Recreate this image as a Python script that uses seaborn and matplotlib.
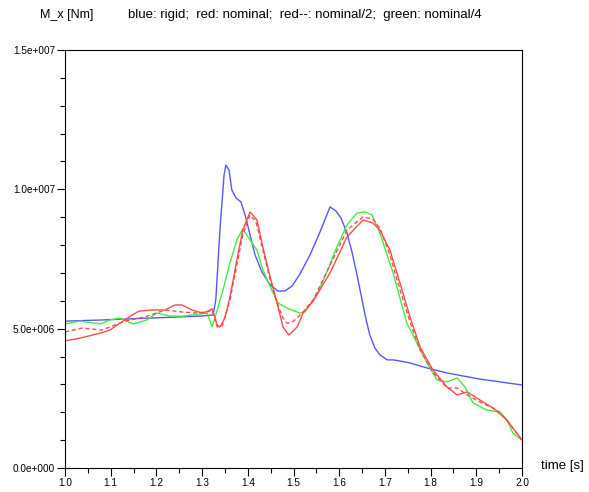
import numpy as np
import pandas as pd
import matplotlib
matplotlib.use("Agg")
import matplotlib.pyplot as plt
import seaborn as sns
from matplotlib.ticker import MultipleLocator, FuncFormatter

# ---- data (time in s, moment in 1e6 Nm) ----
t_rigid = [1.000, 1.077, 1.186, 1.295, 1.324, 1.330, 1.339, 1.348, 1.352, 1.359, 1.365, 1.374,
           1.385, 1.394, 1.405, 1.416, 1.431, 1.449, 1.466, 1.481, 1.497, 1.514, 1.536, 1.558,
           1.580, 1.593, 1.604, 1.617, 1.628, 1.639, 1.650, 1.659, 1.667, 1.678, 1.689, 1.705,
           1.718, 1.733, 1.755, 1.792, 1.836, 1.908, 2.000]
m_rigid = [5.27, 5.31, 5.38, 5.45, 5.49, 6.03, 8.54, 10.51, 10.87, 10.69, 9.98, 9.69,
           9.55, 9.08, 8.36, 7.64, 7.03, 6.57, 6.35, 6.35, 6.53, 6.96, 7.64, 8.47,
           9.37, 9.22, 8.97, 8.43, 7.75, 6.93, 6.03, 5.31, 4.77, 4.31, 4.06, 3.88,
           3.88, 3.84, 3.77, 3.59, 3.41, 3.19, 2.98]

t_nom = [1.000, 1.033, 1.077, 1.098, 1.124, 1.147, 1.162, 1.190, 1.219, 1.241, 1.256, 1.278,
         1.300, 1.313, 1.322, 1.333, 1.339, 1.350, 1.361, 1.376, 1.389, 1.405, 1.420, 1.433,
         1.449, 1.464, 1.477, 1.490, 1.508, 1.521, 1.543, 1.580, 1.617, 1.652, 1.674, 1.689,
         1.711, 1.733, 1.755, 1.777, 1.805, 1.836, 1.858, 1.880, 1.908, 1.937, 1.967, 2.000]
m_nom = [4.56, 4.66, 4.84, 4.95, 5.24, 5.49, 5.63, 5.67, 5.67, 5.85, 5.85, 5.67,
         5.56, 5.63, 5.71, 5.13, 5.06, 5.38, 6.14, 7.46, 8.54, 9.19, 8.90, 7.93,
         6.85, 5.92, 5.06, 4.77, 5.06, 5.56, 5.99, 7.00, 8.29, 8.90, 8.79, 8.54,
         7.82, 6.64, 5.42, 4.34, 3.52, 2.91, 2.62, 2.73, 2.44, 2.15, 1.72, 1.00]

t_half = [1.000, 1.037, 1.081, 1.131, 1.175, 1.219, 1.256, 1.284, 1.311, 1.322, 1.333, 1.344,
          1.361, 1.376, 1.389, 1.405, 1.418, 1.433, 1.449, 1.464, 1.477, 1.486, 1.497, 1.508,
          1.521, 1.543, 1.580, 1.617, 1.652, 1.674, 1.689, 1.711, 1.733, 1.755, 1.777, 1.805,
          1.836, 1.858, 1.880, 1.908, 1.945, 1.967, 2.000]
m_half = [4.88, 5.02, 4.95, 5.27, 5.42, 5.67, 5.60, 5.56, 5.60, 5.67, 5.06, 5.10,
          6.03, 7.28, 8.36, 9.08, 8.83, 7.82, 6.75, 5.92, 5.38, 5.20, 5.24, 5.38,
          5.60, 6.03, 7.28, 8.54, 9.01, 8.93, 8.61, 7.64, 6.39, 5.24, 4.23, 3.44,
          2.87, 2.87, 2.62, 2.37, 2.08, 1.72, 1.00]

t_quarter = [1.000, 1.033, 1.077, 1.098, 1.120, 1.149, 1.179, 1.201, 1.230, 1.258, 1.280, 1.311,
             1.322, 1.344, 1.361, 1.376, 1.389, 1.405, 1.420, 1.433, 1.449, 1.466, 1.486, 1.514,
             1.525, 1.551, 1.573, 1.595, 1.617, 1.639, 1.656, 1.672, 1.689, 1.718, 1.748, 1.770,
             1.792, 1.814, 1.836, 1.858, 1.875, 1.893, 1.923, 1.952, 1.967, 1.980, 2.000]
m_quarter = [5.17, 5.27, 5.17, 5.31, 5.38, 5.17, 5.31, 5.56, 5.45, 5.45, 5.49, 5.56,
             5.06, 6.28, 7.36, 8.18, 8.58, 8.18, 7.82, 7.11, 6.50, 5.92, 5.74, 5.56,
             5.60, 6.21, 7.03, 7.93, 8.72, 9.15, 9.19, 9.08, 8.43, 7.00, 5.20, 4.49,
             3.77, 3.16, 3.09, 3.23, 2.91, 2.33, 2.08, 2.01, 1.72, 1.26, 1.00]

y_label = "M_x [Nm]"
x_label = "time [s]"
legend_text = "blue: rigid;  red: nominal;  red--: nominal/2;  green: nominal/4"

# ---- figure ----
plt.rcParams["font.family"] = ["Liberation Sans", "DejaVu Sans"]
fig = plt.figure(figsize=(5.89, 4.92), dpi=100)
ax = fig.add_axes([65 / 589, 24 / 492, 457 / 589, 418 / 492])

def draw(t, m, color, dashes=None):
    df = pd.DataFrame({"t": t, "M": np.array(m) * 1e6})
    line_ax = sns.lineplot(data=df, x="t", y="M", ax=ax, color=color, lw=1.0,
                           sort=False, estimator=None)
    if dashes is not None:
        line_ax.lines[-1].set_dashes(dashes)

draw(t_rigid, m_rigid, "#5656ff")
draw(t_quarter, m_quarter, "#3cf03c")
draw(t_nom, m_nom, "#ff4a4a")
draw(t_half, m_half, "#ff4a4a", dashes=(3, 2))

ax.set_xlim(1.0, 2.0)
ax.set_ylim(0, 15e6)
ax.set_xlabel("")
ax.set_ylabel("")

def sci(v, pos):
    if v == 0:
        return "0.0e+000"
    e = int(np.floor(np.log10(abs(v))))
    mnt = v / 10 ** e
    return f"{mnt:.1f}e{'+' if e >= 0 else '-'}{abs(e):03d}"

ax.xaxis.set_major_locator(MultipleLocator(0.1))
ax.xaxis.set_minor_locator(MultipleLocator(0.05))
ax.xaxis.set_major_formatter(FuncFormatter(lambda v, p: f"{v:.1f}"))
ax.yaxis.set_major_locator(MultipleLocator(5e6))
ax.yaxis.set_minor_locator(MultipleLocator(1e6))
ax.yaxis.set_major_formatter(FuncFormatter(sci))
ax.tick_params(axis="both", which="major", direction="out", length=5.5, width=0.8,
               labelsize=7.2, color="black", pad=1.5)
ax.tick_params(axis="both", which="minor", direction="out", length=3.6, width=0.8, color="black")
ax.tick_params(axis="x", which="major", pad=2)
for s in ax.spines.values():
    s.set_color("black")
    s.set_linewidth(0.8)
ax.set_facecolor("white")

fig.text(40 / 589, 1 - 15 / 492, y_label, fontsize=9.0, va="center", ha="left")
fig.text(128 / 589, 1 - 15 / 492, legend_text, fontsize=9.5, va="center", ha="left")
fig.text(541 / 589, 1 - 466 / 492, x_label, fontsize=9.5, va="center", ha="left")

fig.savefig("out.png", dpi=100, facecolor="white")
